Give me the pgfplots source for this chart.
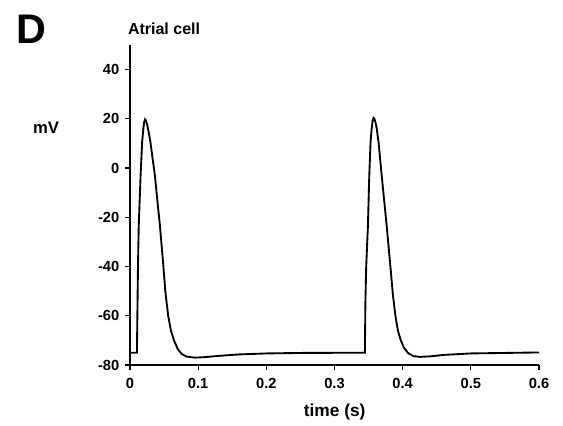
\documentclass[border=0pt]{standalone}
\usepackage{fontspec}
\setmainfont{Liberation Sans}
\usepackage{pgfplots}
\pgfplotsset{compat=1.18}

\pgfplotstableread{
t V
0.0000 -75.0
0.0102 -75.0
0.0108 -60.0
0.0117 -40.0
0.0128 -23.6
0.0155 -3.2
0.0178 10.5
0.0194 15.5
0.0207 18.5
0.0220 19.8
0.0235 19.3
0.0250 17.8
0.0270 15.3
0.0300 10.5
0.0366 -3.2
0.0415 -16.9
0.0440 -23.6
0.0490 -40.0
0.0520 -50.5
0.0560 -60.0
0.0600 -66.0
0.0645 -70.0
0.0700 -73.5
0.0757 -75.5
0.0830 -76.6
0.0950 -77.0
0.1100 -76.8
0.1300 -76.3
0.1600 -75.7
0.2000 -75.3
0.2500 -75.1
0.3446 -75.0
0.3453 -55.0
0.3465 -40.0
0.3490 -23.6
0.3510 -3.2
0.3529 10.5
0.3545 16.0
0.3560 19.3
0.3572 20.4
0.3585 20.1
0.3600 18.7
0.3620 16.0
0.3646 10.5
0.3693 -3.2
0.3742 -16.9
0.3766 -23.6
0.3820 -40.0
0.3855 -51.0
0.3895 -60.3
0.3930 -66.0
0.3970 -69.8
0.4020 -73.0
0.4080 -75.2
0.4160 -76.4
0.4250 -76.7
0.4400 -76.5
0.4600 -75.9
0.5000 -75.3
0.5500 -75.1
0.6000 -74.9
}\atrial

\begin{document}
\begin{tikzpicture}
% page frame: 563x425 px at 0.75pt per px, axis corner at px (130,365)
\useasboundingbox (-97.5pt,-45pt) rectangle (324.75pt,273.75pt);
\begin{axis}[
    at={(0,0)}, anchor=south west,
    scale only axis,
    width=306.75pt,
    height=240pt,
    xmin=0, xmax=0.6,
    ymin=-80, ymax=50,
    axis lines=left,
    axis line style={-, line width=1.1pt},
    xtick={0,0.1,...,0.6},
    ytick={-80,-60,-40,-20,0,20,40},
    tick align=outside,
    major tick length=3.5pt,
    tick style={line width=0.9pt, black},
    font=\bfseries\fontsize{11}{13}\selectfont,
    /pgf/number format/assume math mode=true,
    xticklabel style={yshift=-3pt},
    yticklabel style={xshift=-1pt},
]
\addplot[black, line width=1.4pt] table[x=t, y=V] {\atrial};
\end{axis}
\node[font=\bfseries\fontsize{31}{31}\selectfont] at (-74pt,252pt) {D};
\node[anchor=west, font=\bfseries\fontsize{12}{14}\selectfont] at (-5pt,252pt) {Atrial cell};
\node[font=\bfseries\fontsize{12.5}{14}\selectfont] at (-63pt,178pt) {mV};
\node[font=\bfseries\fontsize{13}{15}\selectfont] at (153.5pt,-35pt) {time (s)};
\end{tikzpicture}
\end{document}
